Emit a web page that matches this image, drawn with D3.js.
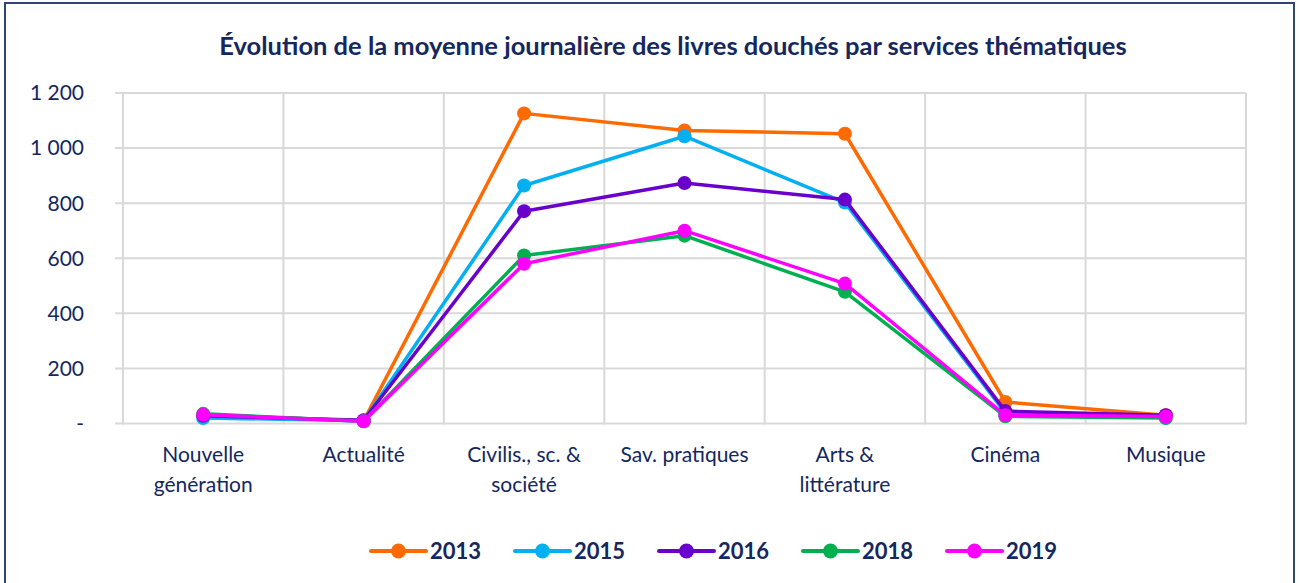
<!DOCTYPE html>
<html lang="fr">
<head>
  <meta charset="UTF-8">
  <title>Évolution de la moyenne journalière des livres douchés</title>
  <style>
    body {
      margin: 0;
      padding: 0;
      background: #fff;
      font-family: Lato, "Open Sans", Arial, sans-serif;
    }
    .grid line {
      stroke: #d9d9d9;
      stroke-width: 2;
    }
    .tick-label {
      fill: #14275e;
      font-size: 21px;
    }
  </style>
</head>
<body>
  <svg id="chart" width="1300" height="583"></svg>

  <script src="https://d3js.org/d3.v7.min.js"></script>
  <script>
    const categories = [
      ['Nouvelle', 'génération'],
      ['Actualité'],
      ['Civilis., sc. &', 'société'],
      ['Sav. pratiques'],
      ['Arts &', 'littérature'],
      ['Cinéma'],
      ['Musique']
    ];
    const years = ['2013', '2015', '2016', '2018', '2019'];
    const colors = ['#ff6a00', '#00b0f0', '#6a00cc', '#00b050', '#ff00ff'];

    const v2013 = [30, 10, 1126, 1064, 1052, 78, 30];
    const v2015 = [20, 10, 864, 1043, 802, 38, 22];
    const v2016 = [28, 12, 771, 873, 813, 45, 30];
    const v2018 = [35, 8, 610, 682, 478, 26, 20];
    const v2019 = [32, 8, 580, 700, 508, 30, 25];
    const series = [v2013, v2015, v2016, v2018, v2019];

    const yTicks = [0, 200, 400, 600, 800, 1000, 1200];

    const svg = d3.select('#chart');

    // outer frame
    svg.append('rect')
      .attr('x', 5).attr('y', 3)
      .attr('width', 1289).attr('height', 600)
      .attr('fill', 'none')
      .attr('stroke', '#2f4674')
      .attr('stroke-width', 2);

    const plotLeft = 123, plotRight = 1246, plotTop = 93, plotBottom = 423.5;

    const x = d3.scaleBand()
      .domain(d3.range(categories.length))
      .range([plotLeft, plotRight]);

    const y = d3.scaleLinear()
      .domain([0, 1200])
      .range([plotBottom, plotTop]);

    // title
    svg.append('text')
      .attr('x', 673).attr('y', 55)
      .attr('text-anchor', 'middle')
      .attr('font-size', 25.5)
      .attr('font-weight', 'bold')
      .attr('fill', '#14275e')
      .text('Évolution de la moyenne journalière des livres douchés par services thématiques');

    // grid
    const grid = svg.append('g').attr('class', 'grid');
    grid.selectAll('.h')
      .data(yTicks)
      .enter()
      .append('line')
      .attr('x1', plotLeft - 8).attr('x2', plotRight)
      .attr('y1', d => y(d)).attr('y2', d => y(d));
    grid.selectAll('.v')
      .data(d3.range(categories.length + 1))
      .enter()
      .append('line')
      .attr('x1', d => plotLeft + d * x.step()).attr('x2', d => plotLeft + d * x.step())
      .attr('y1', plotTop).attr('y2', plotBottom + 1);

    // y labels
    svg.selectAll('.ylab')
      .data(yTicks)
      .enter()
      .append('text')
      .attr('class', 'tick-label')
      .attr('x', 84)
      .attr('y', d => y(d))
      .attr('dy', '0.35em')
      .attr('text-anchor', 'end')
      .text(d => d === 0 ? '-' : d3.format(',')(d).replace(',', ' '));

    // x labels
    const xl = svg.selectAll('.xlab')
      .data(categories)
      .enter()
      .append('text')
      .attr('class', 'tick-label')
      .attr('text-anchor', 'middle')
      .attr('x', (d, i) => x(i) + x.bandwidth() / 2)
      .attr('y', 462);
    xl.selectAll('tspan')
      .data(d => d)
      .enter()
      .append('tspan')
      .attr('x', function () { return d3.select(this.parentNode).attr('x'); })
      .attr('dy', (d, i) => i === 0 ? 0 : 30)
      .text(d => d);

    // lines
    const line = d3.line()
      .x((d, i) => x(i) + x.bandwidth() / 2)
      .y(d => y(d));

    series.forEach((s, k) => {
      svg.append('path')
        .datum(s)
        .attr('d', line)
        .attr('fill', 'none')
        .attr('stroke', colors[k])
        .attr('stroke-width', 3.5)
        .attr('stroke-linejoin', 'round');
      svg.selectAll('.pt' + k)
        .data(s)
        .enter()
        .append('circle')
        .attr('cx', (d, i) => x(i) + x.bandwidth() / 2)
        .attr('cy', d => y(d))
        .attr('r', 7)
        .attr('fill', colors[k]);
    });

    // legend
    const legend = svg.append('g').attr('transform', 'translate(371, 551)');
    const lg = legend.selectAll('.leg')
      .data(years)
      .enter()
      .append('g')
      .attr('transform', (d, i) => `translate(${i * 144}, 0)`);
    lg.append('line')
      .attr('x1', 0).attr('x2', 55)
      .attr('stroke', (d, i) => colors[i])
      .attr('stroke-width', 4)
      .attr('stroke-linecap', 'round');
    lg.append('circle')
      .attr('cx', 27.5).attr('r', 7.5)
      .attr('fill', (d, i) => colors[i]);
    lg.append('text')
      .attr('x', 59)
      .attr('dy', '0.35em')
      .attr('font-size', 22)
      .attr('font-weight', 'bold')
      .attr('fill', '#14275e')
      .text(d => d);
  </script>
</body>
</html>
